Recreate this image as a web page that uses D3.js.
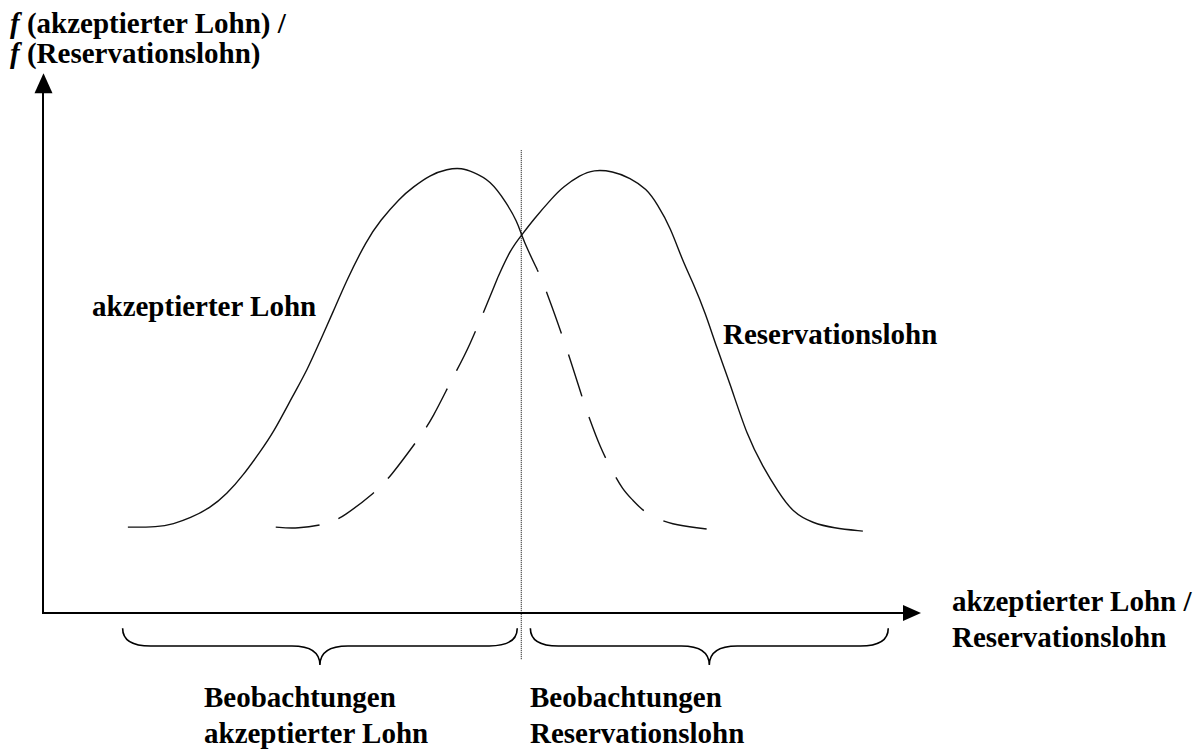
<!DOCTYPE html>
<html>
<head>
<meta charset="utf-8">
<script src="https://cdn.jsdelivr.net/npm/d3@7"></script>
<style>
  html, body { margin: 0; padding: 0; background: #fff; }
  text { font-family: "Liberation Serif", "Times New Roman", serif; font-weight: bold; font-size: 29px; fill: #000; }
</style>
</head>
<body>
<svg id="chart"></svg>
<script>
const width = 1201;
const height = 754;

// curve of the accepted wage: solid part, then dashed tail
const acceptedSolid = [
  [9.7, 19.3], [13.1, 19.3], [14.9, 20.0], [16.8, 21.3], [19.1, 23.6], [21.0, 26.7],
  [22.9, 31.0], [24.8, 36.2], [26.3, 40.4], [28.6, 49.0], [30.2, 54.6], [31.7, 61.3],
  [33.1, 67.4], [34.7, 74.8], [37.0, 83.8], [38.5, 88.1], [40.8, 93.3], [42.3, 95.7],
  [44.2, 98.4], [46.2, 99.8], [47.9, 100], [49.1, 99.1], [51.1, 97.3], [53.0, 92.1],
  [54.2, 87.9], [54.7, 84.9], [55.4, 81.6], [56.5, 77.1]
];
const acceptedDashed = [
  [56.5, 77.1], [57.6, 72.1], [60.0, 58.7], [61.7, 47.9], [62.4, 44.0], [63.7, 37.1],
  [65.0, 32.1], [66.3, 27.6], [67.3, 25.6], [69.0, 22.0], [72.0, 19.8], [74.9, 19.1],
  [76.6, 18.7]
];

// curve of the reservation wage: dashed head, then solid part
const reservationDashed = [
  [26.6, 19.3], [29.0, 18.9], [32.6, 20.0], [34.3, 21.6], [37.9, 27.0], [39.7, 30.6],
  [42.9, 39.1], [44.5, 43.6], [47.0, 53.7], [48.5, 58.7], [52.0, 75.5]
];
const reservationSolid = [
  [52.0, 75.5], [53.4, 81.6], [54.7, 84.9], [56.0, 88.3], [58.3, 93.5], [59.4, 95.7],
  [61.4, 98.4], [62.9, 99.6], [65.1, 99.3], [67.1, 97.8], [69.0, 95.3], [70.2, 91.9],
  [71.7, 86.7], [73.1, 79.1], [74.3, 74.2], [75.7, 67.4], [77.0, 59.6], [78.5, 51.7],
  [80.5, 39.6], [82.3, 32.8], [83.9, 27.6], [85.7, 22.5], [88.0, 20.2], [90.3, 19.1],
  [93.7, 18.4]
];

// cut-off between the two groups of observations
const cutoff = 54.6;
const braces = [
  { from: 9.1, to: 54.2 },
  { from: 55.7, to: 96.6 }
];

const yLabel = ["(akzeptierter Lohn) /", "(Reservationslohn)"];
const xLabel = ["akzeptierter Lohn /", "Reservationslohn"];
const curveLabels = ["akzeptierter Lohn", "Reservationslohn"];
const braceLabels = [
  ["Beobachtungen", "akzeptierter Lohn"],
  ["Beobachtungen", "Reservationslohn"]
];

const svg = d3.select("#chart")
  .attr("width", width)
  .attr("height", height);

const x = d3.scaleLinear().domain([0, 100]).range([43, 918]);
const y = d3.scaleLinear().domain([0, 100]).range([613, 168]);

const line = d3.line()
  .x(d => x(d[0]))
  .y(d => y(d[1]))
  .curve(d3.curveBasis);

// axes with arrow heads
const axes = svg.append("g").attr("class", "axes");
axes.append("line")
  .attr("x1", x(0)).attr("y1", y(0))
  .attr("x2", x(100) - 10).attr("y2", y(0))
  .attr("stroke", "#000").attr("stroke-width", 2);
axes.append("path")
  .attr("d", `M${x(100) + 3},${y(0)} L${x(100) - 15},${y(0) - 8} L${x(100) - 15},${y(0) + 8} Z`)
  .attr("fill", "#000");
axes.append("line")
  .attr("x1", x(0)).attr("y1", y(0) + 1)
  .attr("x2", x(0)).attr("y2", y(117))
  .attr("stroke", "#000").attr("stroke-width", 2);
axes.append("path")
  .attr("d", `M${x(0) + 0.5},${y(121.3)} L${x(0) - 8.5},${y(116.8)} L${x(0) + 9.5},${y(116.8)} Z`)
  .attr("fill", "#000");

// dotted cut-off line
svg.append("line")
  .attr("x1", x(cutoff) + 0.5).attr("y1", y(104))
  .attr("x2", x(cutoff) + 0.5).attr("y2", y(-10.6))
  .attr("stroke", "#000")
  .attr("stroke-width", 1)
  .attr("stroke-dasharray", "1,1");

// density curves
const curves = svg.append("g")
  .attr("fill", "none")
  .attr("stroke", "#111")
  .attr("stroke-width", 1.4);

curves.append("path").attr("d", line(acceptedSolid));
curves.append("path").attr("d", line(reservationSolid));
curves.append("path").attr("d", line(acceptedDashed))
  .attr("stroke-dasharray", "44,22")
  .attr("stroke-dashoffset", -24);
curves.append("path").attr("d", line(reservationDashed))
  .attr("stroke-dasharray", "44,20");

// braces under the axis
const braceTop = y(-3.4), braceFlat = y(-7.4), braceTip = y(-11.7);
function bracePath(b) {
  const x0 = x(b.from), x1 = x(b.to), c = (x0 + x1) / 2, r = 28;
  return `M${x0},${braceTop} Q${x0},${braceFlat} ${x0 + r},${braceFlat}` +
    ` L${c - r},${braceFlat} Q${c},${braceFlat} ${c},${braceTip}` +
    ` Q${c},${braceFlat} ${c + r},${braceFlat}` +
    ` L${x1 - r},${braceFlat} Q${x1},${braceFlat} ${x1},${braceTop}`;
}
svg.append("g")
  .selectAll("path")
  .data(braces)
  .join("path")
  .attr("d", bracePath)
  .attr("fill", "none")
  .attr("stroke", "#000")
  .attr("stroke-width", 1.6);

// y axis title
const yt = svg.append("text").attr("x", 10).attr("y", 33);
yt.append("tspan").attr("font-style", "italic").text("f");
yt.append("tspan").text(" " + yLabel[0]);
const yt2 = svg.append("text").attr("x", 10).attr("y", 63);
yt2.append("tspan").attr("font-style", "italic").text("f");
yt2.append("tspan").text(" " + yLabel[1]);

// x axis title
svg.append("g")
  .selectAll("text")
  .data(xLabel)
  .join("text")
  .attr("x", 952)
  .attr("y", (d, i) => 611 + i * 36)
  .text(d => d);

// curve labels
svg.append("text").attr("x", 92).attr("y", 316).text(curveLabels[0]);
svg.append("text").attr("x", 723).attr("y", 344).text(curveLabels[1]);

// labels below the braces
const braceLabelX = [204, 530];
braceLabels.forEach((lines, k) => {
  svg.append("g")
    .selectAll("text")
    .data(lines)
    .join("text")
    .attr("x", braceLabelX[k])
    .attr("y", (d, i) => 707 + i * 36)
    .text(d => d);
});
</script>
</body>
</html>
